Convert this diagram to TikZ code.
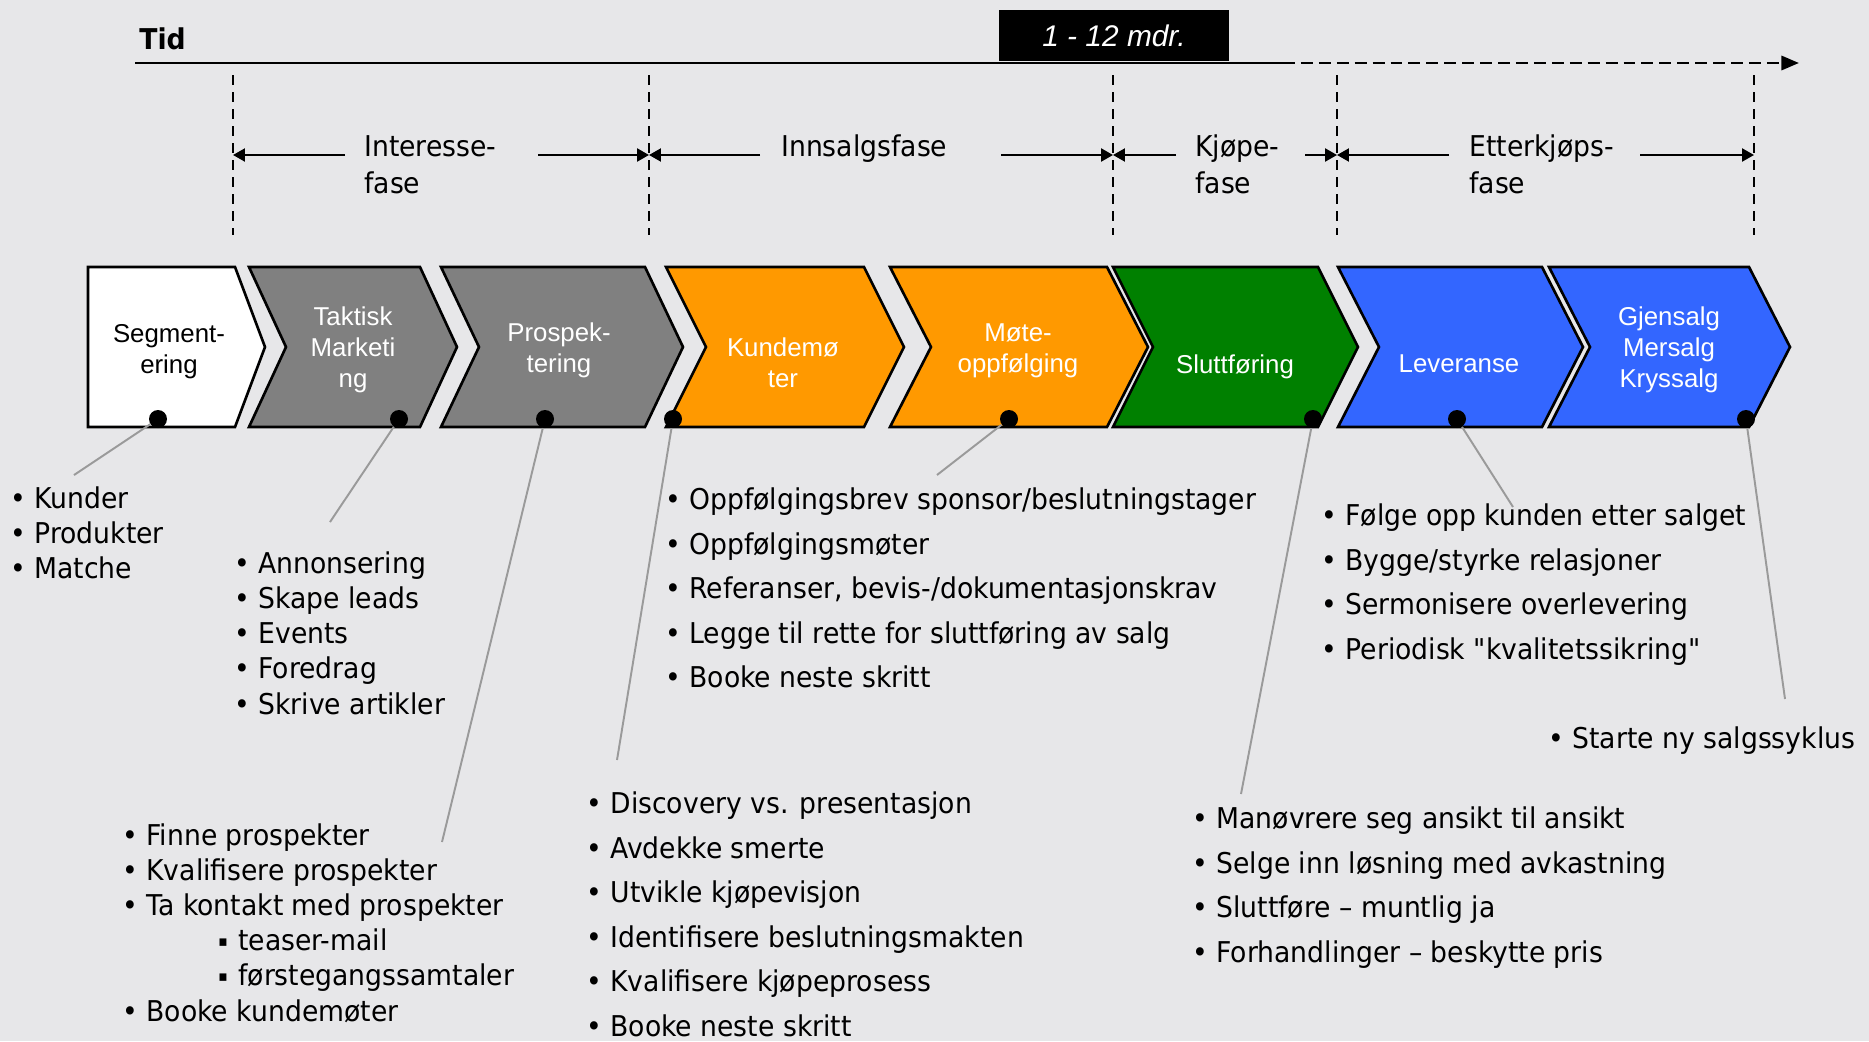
\documentclass[tikz,border=0pt]{standalone}
\usepackage{fontspec}
\setmainfont{Liberation Sans}
\newfontfamily\tahoma[FakeStretch=0.93]{DejaVu Sans}
\usepackage{tikz}
\usetikzlibrary{positioning, arrows.meta, calc}
\definecolor{slideBg}{HTML}{E7E7E9}
\definecolor{chevGray}{HTML}{808080}
\definecolor{chevOrange}{HTML}{FF9900}
\definecolor{chevGreen}{HTML}{008000}
\definecolor{chevBlue}{HTML}{3366FF}
\definecolor{leader}{HTML}{9A9A9A}
\newcommand{\chevron}[4]{\filldraw[chev, fill=#3] (#1,267) -- (#2,267) -- (#2+#4,347) -- (#2,427) -- (#1,427) -- (#1+#4,347) -- cycle;}
\newcommand{\subpoint}{\hspace*{1.92cm}\makebox[0.4cm][l]{\raisebox{2.3pt}{\fontsize{8.5}{8.5}\selectfont ▪}}}

\begin{document}
\begin{tikzpicture}[x=0.02cm, y=-0.02cm, chev/.style={draw=black, line width=1.5pt, line join=miter}, lbl/.style={font=\fontsize{14.7}{17.6}\selectfont, align=center, anchor=base, inner sep=0pt}, phase/.style={font=\tahoma\fontsize{16.3}{21}\selectfont, align=left, anchor=base west, inner sep=0pt}, listtight/.style={font=\tahoma\fontsize{16.3}{20}\selectfont, align=left, anchor=base west, inner sep=0pt}, listloose/.style={font=\tahoma\fontsize{16.3}{25.3}\selectfont, align=left, anchor=base west, inner sep=0pt}, knob/.style={circle, fill=black, minimum size=0.36cm, inner sep=0pt}, lead/.style={draw=leader, line width=1.1pt}, dimarr/.style={-{Triangle[length=6.8pt, width=7.4pt]}, line width=1.2pt}, guide/.style={dash pattern=on 5.7pt off 4pt, line width=1.2pt}, tline/.style={line width=1.7pt}]
\fill[slideBg] (0,0) rectangle (1869,1041);
\useasboundingbox (0,0) rectangle (1869,1041);
% time axis
\coordinate (tl0) at (135,63); \coordinate (tl1) at (1283,63); \coordinate (tl2) at (1799,63);
\draw[tline] (tl0) -- (tl1);
\draw[tline, dash pattern=on 6.8pt off 3.4pt, -{Triangle[length=10pt, width=8pt]}] (tl1) -- (tl2);
\node[phase, font=\tahoma\bfseries\fontsize{16.3}{21}\selectfont] (tid) at (139,50) {Tid};
\node[fill=black, text=white, minimum width=4.6cm, minimum height=1.02cm, inner sep=0pt, font=\itshape\fontsize{17}{20}\selectfont] (span) at (1114,35.5) {1 - 12 mdr.};
% phases
\draw[guide] (233,75) -- (233,235); \draw[guide] (649,75) -- (649,235); \draw[guide] (1113,75) -- (1113,235); \draw[guide] (1337,75) -- (1337,235); \draw[guide] (1754,75) -- (1754,235);
\coordinate (t1) at (233,155); \coordinate (t2) at (649,155); \coordinate (t3) at (1113,155); \coordinate (t4) at (1337,155); \coordinate (t5) at (1754,155);
\coordinate (a1) at (345,155); \coordinate (a2) at (538,155); \coordinate (a3) at (760,155); \coordinate (a4) at (1001,155);
\coordinate (a5) at (1176,155); \coordinate (a6) at (1305,155); \coordinate (a7) at (1449,155); \coordinate (a8) at (1640,155);
\draw[dimarr] (a1)--(t1); \draw[dimarr] (a2)--(t2); \draw[dimarr] (a3)--(t2); \draw[dimarr] (a4)--(t3);
\draw[dimarr] (a5)--(t3); \draw[dimarr] (a6)--(t4); \draw[dimarr] (a7)--(t4); \draw[dimarr] (a8)--(t5);
% base anchor sits on the last line
\node[phase] (h1) at (364,193) {Interesse-\\fase};
\node[phase] (h2) at (781,156) {Innsalgsfase};
\node[phase] (h3) at (1195,193) {Kjøpe-\\fase};
\node[phase] (h4) at (1469,193) {Etterkjøps-\\fase};
% chevrons
\filldraw[chev, fill=white] (88,267) -- (235,267) -- (265,347) -- (235,427) -- (88,427) -- cycle;
\chevron{249}{420}{chevGray}{37}
\chevron{441}{645}{chevGray}{38}
\chevron{666}{864}{chevOrange}{40}
\chevron{890}{1107}{chevOrange}{41}
\chevron{1113}{1318}{chevGreen}{40}
\chevron{1338}{1542}{chevBlue}{41}
\chevron{1549}{1749}{chevBlue}{41}
\node[lbl] (l1) at (169,373) {Segment-\\ering};
\node[lbl, text=white] (l2) at (353,387) {Taktisk\\Marketi\\ng};
\node[lbl, text=white] (l3) at (559,372) {Prospek-\\tering};
\node[lbl, text=white] (l4) at (783,387) {Kundemø\\ter};
\node[lbl, text=white] (l5) at (1018,372) {Møte-\\oppfølging};
\node[lbl, text=white] (l6) at (1235,373) {Sluttføring};
\node[lbl, text=white] (l7) at (1459,372) {Leveranse};
\node[lbl, text=white] (l8) at (1669,387) {Gjensalg\\Mersalg\\Kryssalg};
% dots and leaders
\node[knob] (d1) at (158,419) {}; \node[knob] (d2) at (399,419) {}; \node[knob] (d3) at (545,419) {}; \node[knob] (d4) at (673,419) {};
\node[knob] (d5) at (1009,419) {}; \node[knob] (d6) at (1313,419) {}; \node[knob] (d7) at (1457,419) {}; \node[knob] (d8) at (1746,419) {};
\coordinate (e1) at (74,475); \coordinate (e2) at (330,522); \coordinate (e3) at (442,842); \coordinate (e4) at (617,760);
\coordinate (e5) at (937,475); \coordinate (e6) at (1241,794); \coordinate (e7) at (1513,507); \coordinate (e8) at (1785,699);
\draw[lead] (d1)--(e1); \draw[lead] (d2)--(e2); \draw[lead] (d3)--(e3); \draw[lead] (d4)--(e4);
\draw[lead] (d5)--(e5); \draw[lead] (d6)--(e6); \draw[lead] (d7)--(e7); \draw[lead] (d8)--(e8);
% activity lists
\node[listtight] (segList) at (10,578.6) {• Kunder\\• Produkter\\• Matche};
\node[listtight] (markList) at (234,714) {• Annonsering\\• Skape leads\\• Events\\• Foredrag\\• Skrive artikler};
\node[listtight] (prospList) at (122,1021) {• Finne prospekter\\• Kvalifisere prospekter\\• Ta kontakt med prospekter\\\subpoint teaser-mail\\\subpoint førstegangssamtaler\\• Booke kundemøter};
\node[listloose] (meetList) at (586,1036) {• Discovery vs. presentasjon\\• Avdekke smerte\\• Utvikle kjøpevisjon\\• Identifisere beslutningsmakten\\• Kvalifisere kjøpeprosess\\• Booke neste skritt};
\node[listloose] (followList) at (665,687.5) {• Oppfølgingsbrev sponsor/beslutningstager\\• Oppfølgingsmøter\\• Referanser, bevis-/dokumentasjonskrav\\• Legge til rette for sluttføring av salg\\• Booke neste skritt};
\node[listloose] (closeList) at (1192,962) {• Manøvrere seg ansikt til ansikt\\• Selge inn løsning med avkastning\\• Sluttføre – muntlig ja\\• Forhandlinger – beskytte pris};
\node[listloose] (delivList) at (1321,659) {• Følge opp kunden etter salget\\• Bygge/styrke relasjoner\\• Sermonisere overlevering\\• Periodisk "kvalitetssikring"};
\node[listloose] (resaleList) at (1548,748) {• Starte ny salgssyklus};
\end{tikzpicture}
\end{document}
